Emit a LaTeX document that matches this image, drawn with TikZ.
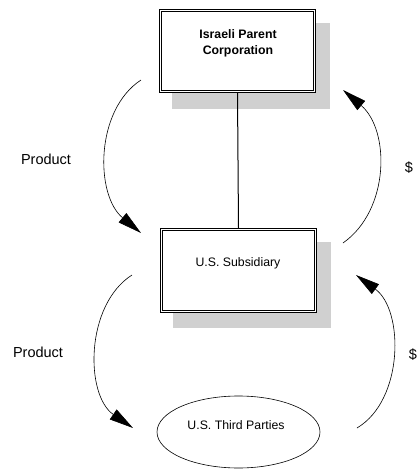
\documentclass[tikz,border=0pt]{standalone}
\usepackage{fontspec}
\setmainfont{Liberation Sans}
\usetikzlibrary{arrows.meta,shapes.geometric}
\definecolor{shadowgray}{RGB}{208,208,208}
\tikzset{
  entity/.style={draw, line width=1.4pt, fill=white,
    minimum width=156pt, minimum height=83pt, inner sep=0pt},
  innerframe/.style={line width=0.9pt},
  shade/.style={fill=shadowgray, draw=none, minimum width=158pt,
    minimum height=86pt, inner sep=0pt},
  party/.style={draw, ellipse, line width=0.6pt, fill=white,
    minimum width=163pt, minimum height=72pt, inner sep=0pt},
  caption/.style={font=\fontsize{12.3pt}{16.5pt}\selectfont, align=center, inner sep=0pt},
  side/.style={font=\fontsize{14.5pt}{17pt}\selectfont, inner sep=0pt},
  flow/.style={line width=0.6pt, -{Triangle[length=24pt,width=12pt]}},
}
\begin{document}
\begin{tikzpicture}[x=1pt,y=-1pt]
\useasboundingbox (0,0) rectangle (419,469);

% drop shadows behind the two company boxes
\node[shade] (parentshadow) at (251,66) {};
\node[shade] (subshadow) at (252,285) {};

% entities with a double frame
\node[entity] (parent) at (237.5,51) {};
\draw[innerframe] ([shift={(3,3)}]parent.north west) rectangle ([shift={(-3,-3)}]parent.south east);
\node[caption, font=\fontsize{12.3pt}{16.5pt}\selectfont\bfseries] (parenttext) at (238,43.5) {Israeli Parent\\Corporation};

\node[entity, minimum height=84pt] (sub) at (238.5,270.5) {};
\draw[innerframe] ([shift={(3,3)}]sub.north west) rectangle ([shift={(-3,-3)}]sub.south east);
\node[caption] (subtext) at (238,263) {U.S. Subsidiary};

\node[party] (third) at (238.5,432) {};
\node[caption] (thirdtext) at (236,425) {U.S. Third Parties};

% ownership link
\draw[line width=1pt] (parent.south) -- (sub.north);

% flow arrows
\coordinate (a1) at (141,80);  \coordinate (a2) at (141,233);
\coordinate (b1) at (343,243); \coordinate (b2) at (343,90);
\coordinate (c1) at (132,275); \coordinate (c2) at (133,428);
\coordinate (d1) at (357,428); \coordinate (d2) at (356,275);

\draw[flow] (a1) .. controls (95,110) and (95,195) .. (a2);
\draw[flow] (b1) .. controls (390,210) and (390,130) .. (b2);
\draw[flow] (c1) .. controls (85,305) and (85,395) .. (c2);
\draw[flow] (d1) .. controls (404,400) and (404,310) .. (d2);

% flow labels
\node[side] (prod1) at (46,159) {Product};
\node[side] (money1) at (409,168) {\$};
\node[side] (prod2) at (38,352) {Product};
\node[side] (money2) at (413,355) {\$};
\end{tikzpicture}
\end{document}
